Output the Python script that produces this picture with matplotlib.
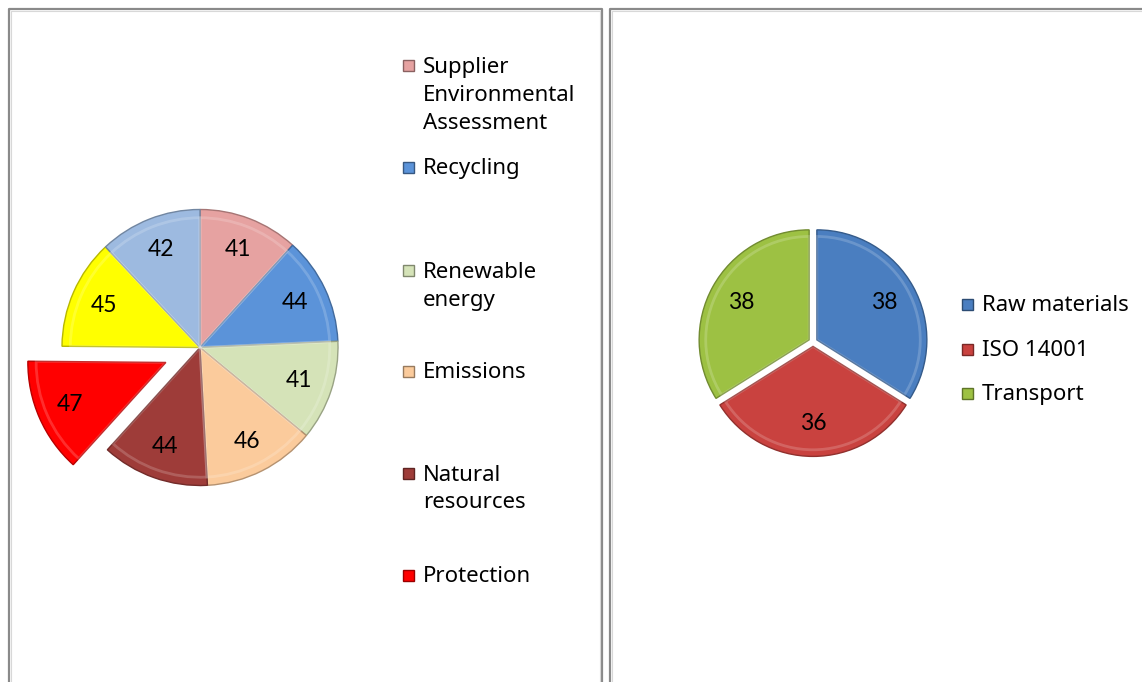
import numpy as np
import matplotlib.pyplot as plt
from matplotlib.patches import Rectangle
from matplotlib.lines import Line2D
from matplotlib.colors import to_rgb

# Left chart: environmental topics
left_values = [41, 44, 41, 46, 44, 47, 45, 42]
left_colors = ['#E6A2A1', '#5B93D9', '#D5E3B8', '#FBCB9C', '#9E3C39', '#FF0000', '#FFFF00', '#9DBAE0']
left_legend = ['Supplier\nEnvironmental\nAssessment', 'Recycling', 'Renewable\nenergy',
               'Emissions', 'Natural\nresources', 'Protection']
left_explode = [0, 0, 0, 0, 0, 0.27, 0, 0]

# Right chart: supply chain topics
right_values = [38, 36, 38]
right_colors = ['#4A7EC0', '#C9423F', '#9DC143']
right_legend = ['Raw materials', 'ISO 14001', 'Transport']

W, H = 1142, 682
fig = plt.figure(figsize=(W / 100, H / 100), dpi=100)

LABEL_FONT = ['Lato', 'DejaVu Sans']
LEGEND_FONT = ['Noto Sans', 'DejaVu Sans']


def darker(c, f=0.72):
    r, g, b = to_rgb(c)
    return (r * f, g * f, b * f)


def pie_axes(cx, cy, rpx, ext=1.45):
    # axes centred on (cx, cy) pixels, pie radius rpx pixels
    half = ext * rpx
    ax = fig.add_axes([(cx - half) / W, 1 - (cy + half) / H, 2 * half / W, 2 * half / H])
    return ax, ext


def draw_pie(ax, ext, values, colors, explode, pctdist):
    total = sum(values)
    wedges, _, autotexts = ax.pie(
        values, colors=colors, explode=explode, startangle=90, counterclock=False,
        autopct=lambda p: f'{p * total / 100:.0f}', pctdistance=pctdist,
        wedgeprops=dict(linewidth=1.0),
        textprops=dict(fontsize=16.5, family=LABEL_FONT, color='black'))
    for w, c in zip(wedges, colors):
        w.set_edgecolor(darker(c))
    # soft rim highlight for a bevelled look
    ax.pie(values, explode=explode, startangle=90, counterclock=False, radius=0.94,
           colors=['none'] * len(values),
           wedgeprops=dict(linewidth=2.0, edgecolor=(1, 1, 1, 0.18)))
    ax.set_xlim(-ext, ext)
    ax.set_ylim(-ext, ext)
    ax.set_aspect('equal')
    ax.axis('off')
    return wedges


ax_l, ext_l = pie_axes(200, 347.5, 138)
draw_pie(ax_l, ext_l, left_values, left_colors, left_explode, 0.76)

ax_r, ext_r = pie_axes(813, 342, 110)
draw_pie(ax_r, ext_r, right_values, right_colors, [0.04] * 3, 0.70)

FS = 16
LINE_PX = 28.5
SPACING = 1.43


def legend_entry(x, y, label, color):
    # square marker with darker rim, then the text block (y = first baseline)
    s = 11
    fig.patches.append(Rectangle((x / W, 1 - (y - 1) / H), s / W, s / H,
                                 transform=fig.transFigure, facecolor=color,
                                 edgecolor=darker(color, 0.6), linewidth=1.0))
    nlines = label.count('\n') + 1
    fig.text((x + 20) / W, 1 - (y + (nlines - 1) * LINE_PX) / H, label, fontsize=FS,
             family=LEGEND_FONT, va='baseline', ha='left', linespacing=SPACING,
             transform=fig.transFigure)


# first-line baselines of the left legend
left_rows = [72, 174, 277, 378, 480, 582]
for y, lab, col in zip(left_rows, left_legend, left_colors):
    legend_entry(403, y, lab, col)

right_rows = [311, 356, 400]
for y, lab, col in zip(right_rows, right_legend, right_colors):
    legend_entry(962, y, lab, col)

# panel frames
for x0, x1 in [(9, 602), (610, 1160)]:
    fig.lines.append(Line2D([x0 / W, x0 / W, x1 / W, x1 / W], [0 - 0.01, 1 - 9 / H, 1 - 9 / H, -0.01],
                            transform=fig.transFigure, color='#8a8a8a', linewidth=1.6))
    fig.lines.append(Line2D([(x0 + 2) / W, (x0 + 2) / W, (x1 - 2) / W, (x1 - 2) / W],
                            [-0.01, 1 - 11 / H, 1 - 11 / H, -0.01],
                            transform=fig.transFigure, color='#d8d8d8', linewidth=0.8))

fig.savefig('out.png', dpi=100)
